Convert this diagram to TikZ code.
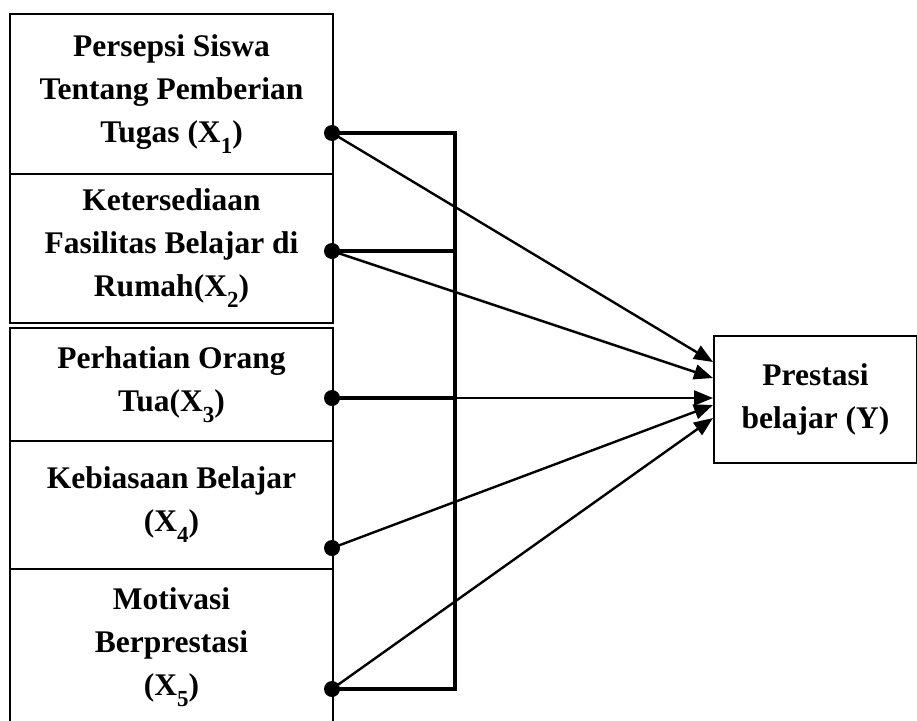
\documentclass[tikz,border=0pt]{standalone}
\usepackage{fontspec}
\setmainfont{Liberation Serif}
\usetikzlibrary{arrows.meta}

\newcommand{\varsub}[1]{\raisebox{-11pt}{\fontsize{23}{23}\selectfont #1}}

\tikzset{
 varbox/.style={draw, line width=2pt, align=center, inner sep=0pt, anchor=north west,
   minimum width=323pt, font=\fontsize{31.5}{43}\selectfont\bfseries},
 dot/.style={circle, fill, inner sep=0pt, minimum size=16pt},
 link/.style={line width=2.4pt, -{Triangle[length=19pt,width=15pt]}},
 bracket/.style={line width=4pt}
}

\begin{document}
\begin{tikzpicture}[x=1pt,y=-1pt]
 \useasboundingbox (0,0) rectangle (917,720);
 %\draw[step=50, gray, very thin] (0,0) grid (917,720);

 % independent variables
 \node[varbox, minimum height=160pt] (x1) at (9,13) {Persepsi Siswa\\Tentang Pemberian\\Tugas (X\varsub{1})};
 \node[varbox, minimum height=149pt] (x2) at (9,173) {Ketersediaan\\Fasilitas Belajar di\\Rumah(X\varsub{2})};
 \node[varbox, minimum height=113pt] (x3) at (9,327) {Perhatian Orang\\Tua(X\varsub{3})};
 \node[varbox, minimum height=128pt] (x4) at (9,440) {Kebiasaan Belajar\\(X\varsub{4})};
 \node[varbox, minimum height=156pt] (x5) at (9,568) {Motivasi\\Berprestasi\\(X\varsub{5})};

 % dependent variable
 \node[varbox, minimum width=203pt, minimum height=127pt] (y) at (713,335) {Prestasi\\belajar (Y)};

 \node[dot] (d1) at (332,133) {};
 \node[dot] (d2) at (332,251) {};
 \node[dot] (d3) at (332,398) {};
 \node[dot] (d4) at (332,548) {};
 \node[dot] (d5) at (332,689) {};

 \coordinate (b1) at (455,133);
 \coordinate (b2) at (455,251);
 \coordinate (b3) at (455,398);
 \coordinate (b5) at (455,689);

 \coordinate (t1) at (713,362);
 \coordinate (t2) at (713,378);
 \coordinate (t3) at (713,398);
 \coordinate (t4) at (713,405);
 \coordinate (t5) at (713,418);

 \draw[bracket] (d1.center) -- (b1) -- (b5) -- (d5.center);
 \draw[bracket] (d2.center) -- (b2);
 \draw[bracket] (d3.center) -- (b3);

 \draw[link] (d1.center) -- (t1);
 \draw[link] (d2.center) -- (t2);
 \draw[link] (d3.center) -- (t3);
 \draw[link] (d4.center) -- (t4);
 \draw[link] (d5.center) -- (t5);
\end{tikzpicture}
\end{document}
